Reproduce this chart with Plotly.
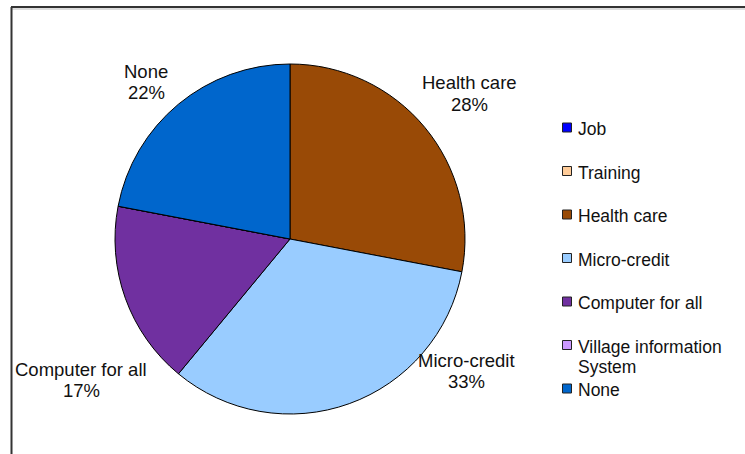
import plotly.graph_objects as go

# Survey: which e-service households use
categories = ["Job", "Training", "Health care", "Micro-credit",
              "Computer for all", "Village information System", "None"]
shares = [0, 0, 28, 33, 17, 0, 22]
colors = ["#0000FF", "#FFCC99", "#994A06", "#99CCFF",
          "#7030A0", "#CC99FF", "#0066CC"]
legend_text = ["Job", "Training", "Health care", "Micro-credit",
               "Computer for all", "Village information<br>System", "None"]

W, H = 745, 454
FONT = "Liberation Sans, Arial, sans-serif"
TXT = "#111111"

def px(x):
    return x / W

def py(y):
    return 1 - y / H

# pie geometry (pixels)
cx, cy, r = 290, 239, 175

fig = go.Figure()
fig.add_trace(go.Pie(
    labels=categories,
    values=shares,
    sort=False,
    direction="clockwise",
    rotation=0,
    marker=dict(colors=colors, line=dict(color="#000000", width=1)),
    textinfo="none",
    hoverinfo="label+percent",
    showlegend=False,
    domain=dict(x=[px(cx - r), px(cx + r)], y=[py(cy + r), py(cy - r)]),
))

def text_line(x, y, s, size, anchor):
    return dict(
        x=px(x), y=py(y), xref="paper", yref="paper",
        text=s, showarrow=False, xanchor=anchor, yanchor="middle",
        font=dict(family=FONT, size=size, color=TXT),
    )

# slice labels placed beside the pie: (x, y of first line)
label_pos = {
    "Health care": (469, 83),
    "Micro-credit": (466, 360),
    "Computer for all": (81, 369),
    "None": (146, 71),
}
total = sum(shares)
annotations = []
for name, val in zip(categories, shares):
    if val == 0 or name not in label_pos:
        continue
    x, y = label_pos[name]
    annotations.append(text_line(x, y, name, 18.5, "center"))
    annotations.append(text_line(x, y + 21, f"{round(100 * val / total)}%", 18.5, "center"))

# legend rows: swatch + label
shapes = []
row0, step = 129, 43.5
for i, (txt, col) in enumerate(zip(legend_text, colors)):
    yc = row0 + step * i
    shapes.append(dict(
        type="rect", xref="paper", yref="paper",
        x0=px(562.5), x1=px(571.5), y0=py(yc + 3), y1=py(yc - 6),
        fillcolor=col, line=dict(color="#222222", width=1),
    ))
    for j, part in enumerate(txt.split("<br>")):
        annotations.append(text_line(576, yc + 20 * j, part, 17.5, "left"))

# chart frame (top and left edges)
shapes.append(dict(type="line", xref="paper", yref="paper",
                   x0=px(11), x1=1, y0=py(7), y1=py(7),
                   line=dict(color="#333333", width=2)))
shapes.append(dict(type="line", xref="paper", yref="paper",
                   x0=px(12), x1=1, y0=py(9), y1=py(9),
                   line=dict(color="#bbbbbb", width=1)))
shapes.append(dict(type="line", xref="paper", yref="paper",
                   x0=px(11.5), x1=px(11.5), y0=py(7), y1=0,
                   line=dict(color="#333333", width=2)))

fig.update_layout(
    width=W, height=H,
    margin=dict(l=0, r=0, t=0, b=0),
    paper_bgcolor="white",
    plot_bgcolor="white",
    annotations=annotations,
    shapes=shapes,
    font=dict(family=FONT),
)

fig.write_html("out.html")
